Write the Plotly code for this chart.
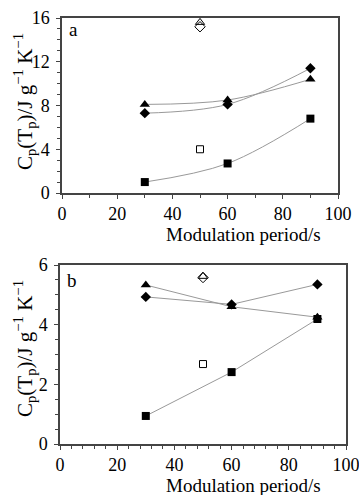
import plotly.graph_objects as go

periods = [30, 60, 90]
# panel a
a_tri = [8.1, 8.5, 10.4]
a_dia = [7.3, 8.1, 11.4]
a_sq = [1.0, 2.7, 6.8]
a_open_x = [50]
a_open_sq = [4.0]
a_open_tri = [15.6]
a_open_dia = [15.2]
# panel b
b_tri = [5.33, 4.6, 4.25]
b_dia = [4.93, 4.68, 5.35]
b_sq = [0.94, 2.41, 4.19]
b_open_x = [50]
b_open_sq = [2.68]
b_open_tri = [5.62]
b_open_dia = [5.58]

W, H = 359, 495
FONT = "Liberation Serif"
LINE = "#999999"
AX = "#444444"

fig = go.Figure()

def add_panel(xa, ya, tri, dia, sq, ox, osq, otri, odia, shape):
    for ys, sym, sz in [(tri, "triangle-up", 9), (dia, "diamond", 8), (sq, "square", 8)]:
        fig.add_trace(go.Scatter(x=periods, y=ys, mode="lines+markers", xaxis=xa, yaxis=ya,
                                 line=dict(color=LINE, width=1, shape=shape, smoothing=1.0),
                                 marker=dict(symbol=sym, size=sz, color="black"),
                                 showlegend=False))
    fig.add_trace(go.Scatter(x=ox, y=osq, mode="markers", xaxis=xa, yaxis=ya,
                             marker=dict(symbol="square-open", size=7, color="black", line=dict(width=1)),
                             showlegend=False))
    fig.add_trace(go.Scatter(x=ox, y=odia, mode="markers", xaxis=xa, yaxis=ya,
                             marker=dict(symbol="diamond-open", size=8, color="black", line=dict(width=1)),
                             showlegend=False))
    fig.add_trace(go.Scatter(x=ox, y=otri, mode="markers", xaxis=xa, yaxis=ya,
                             marker=dict(symbol="triangle-up-open", size=8, color="black", line=dict(width=1)),
                             showlegend=False))

add_panel("x", "y", a_tri, a_dia, a_sq, a_open_x, a_open_sq, a_open_tri, a_open_dia, "spline")
add_panel("x2", "y2", b_tri, b_dia, b_sq, b_open_x, b_open_sq, b_open_tri, b_open_dia, "linear")

tickfont = dict(family=FONT, size=18, color="black")
common_x = dict(range=[0, 100], dtick=20, showline=True, linecolor=AX, linewidth=1.5, mirror=True,
                ticks="outside", ticklen=4, tickcolor=AX, showgrid=False, zeroline=False,
                tickfont=tickfont, automargin=False, ticklabelstandoff=0, ticklabeloverflow="allow")
common_y = dict(showline=True, linecolor=AX, linewidth=1.5, mirror=True,
                ticks="outside", ticklen=4, tickcolor=AX, showgrid=False, zeroline=False,
                tickfont=tickfont, automargin=False, ticklabelstandoff=3, ticklabeloverflow="allow")

fig.update_layout(
    width=W, height=H, margin=dict(l=0, r=0, t=0, b=0),
    paper_bgcolor="white", plot_bgcolor="white",
    xaxis=dict(common_x, domain=[62 / W, 338 / W], anchor="y",
               minor=dict(dtick=10, ticks="outside", ticklen=3, tickcolor=AX)),
    yaxis=dict(common_y, domain=[1 - 193 / H, 1 - 18 / H], anchor="x", range=[0, 16], dtick=4,
               minor=dict(dtick=1, ticks="outside", ticklen=3, tickcolor=AX)),
    xaxis2=dict(common_x, domain=[60 / W, 346 / W], anchor="y2",
                minor=dict(dtick=4, ticks="outside", ticklen=3, tickcolor=AX)),
    yaxis2=dict(common_y, domain=[1 - 444 / H, 1 - 265 / H], anchor="x2", range=[0, 6], dtick=2,
                minor=dict(dtick=0.5, ticks="outside", ticklen=3, tickcolor=AX)),
)

ytitle = "C<sub>p</sub>(T<sub>p</sub>)/J g<sup>\u22121</sup> K<sup>\u22121</sup>"
titlefont = dict(family=FONT, size=21, color="black")
for ycen, xcen in [(102, 24), (349, 24)]:
    fig.add_annotation(text=ytitle, x=xcen / W, y=1 - ycen / H, xref="paper", yref="paper",
                       showarrow=False, textangle=-90, font=titlefont, xanchor="center", yanchor="middle")
xfont = dict(family=FONT, size=19, color="black")
for ycen, xcen in [(235, 244), (485, 243)]:
    fig.add_annotation(text="Modulation period/s", x=xcen / W, y=1 - ycen / H, xref="paper", yref="paper",
                       showarrow=False, font=xfont, xanchor="center", yanchor="middle")
fig.add_annotation(text="a", x=67 / W, y=1 - 29 / H, xref="paper", yref="paper", showarrow=False,
                   font=xfont, xanchor="left", yanchor="middle")
fig.add_annotation(text="b", x=65 / W, y=1 - 280 / H, xref="paper", yref="paper", showarrow=False,
                   font=xfont, xanchor="left", yanchor="middle")

fig.write_html("out.html", config={"displayModeBar": False},
               post_script="document.body.style.margin='0';document.body.style.overflow='hidden';")
